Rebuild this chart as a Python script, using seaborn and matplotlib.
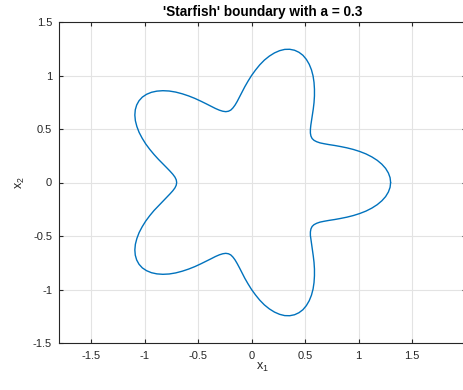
import matplotlib
matplotlib.use("Agg")
import matplotlib.pyplot as plt
import seaborn as sns
import pandas as pd

# Boundary points: upper half (left to right along the curve)
x_upper = [1.300, 1.295, 1.279, 1.253, 1.218, 1.175, 1.125, 1.070, 1.011, 0.951,
           0.891, 0.832, 0.777, 0.725, 0.680, 0.641, 0.609, 0.584, 0.566, 0.555,
           0.550, 0.550, 0.554, 0.561, 0.569, 0.577, 0.584, 0.588, 0.588, 0.584,
           0.575, 0.560, 0.539, 0.512, 0.480, 0.443, 0.402, 0.357, 0.310, 0.262,
           0.214, 0.166, 0.120, 0.077, 0.037, 0.000, -0.033, -0.063, -0.089, -0.112,
           -0.134, -0.154, -0.174, -0.194, -0.216, -0.241, -0.269, -0.301, -0.338, -0.379,
           -0.425, -0.476, -0.530, -0.588, -0.648, -0.709, -0.770, -0.829, -0.885, -0.936,
           -0.982, -1.021, -1.052, -1.074, -1.087, -1.091, -1.086, -1.072, -1.051, -1.022,
           -0.989, -0.951, -0.911, -0.871, -0.831, -0.795, -0.763, -0.736, -0.716, -0.704,
           -0.700]
y_upper = [0.000, 0.045, 0.089, 0.132, 0.171, 0.207, 0.239, 0.267, 0.290, 0.309,
           0.324, 0.336, 0.346, 0.354, 0.362, 0.370, 0.381, 0.394, 0.411, 0.434,
           0.462, 0.495, 0.535, 0.581, 0.632, 0.687, 0.747, 0.809, 0.872, 0.935,
           0.996, 1.053, 1.105, 1.151, 1.189, 1.217, 1.236, 1.245, 1.244, 1.232,
           1.211, 1.181, 1.144, 1.100, 1.051, 1.000, 0.947, 0.895, 0.845, 0.799,
           0.758, 0.724, 0.697, 0.677, 0.666, 0.662, 0.666, 0.676, 0.692, 0.713,
           0.736, 0.761, 0.786, 0.809, 0.829, 0.845, 0.855, 0.858, 0.854, 0.843,
           0.824, 0.798, 0.764, 0.724, 0.679, 0.630, 0.577, 0.523, 0.468, 0.413,
           0.360, 0.309, 0.261, 0.217, 0.177, 0.140, 0.107, 0.077, 0.050, 0.025,
           0.000]
# Lower half, continuing around the curve back to the start
x_lower = [-0.704, -0.716, -0.736, -0.763, -0.795, -0.831, -0.871, -0.911, -0.951, -0.989,
           -1.022, -1.051, -1.072, -1.086, -1.091, -1.087, -1.074, -1.052, -1.021, -0.982,
           -0.936, -0.885, -0.829, -0.770, -0.709, -0.648, -0.588, -0.530, -0.476, -0.425,
           -0.379, -0.338, -0.301, -0.269, -0.241, -0.216, -0.194, -0.174, -0.154, -0.134,
           -0.112, -0.089, -0.063, -0.033, 0.000, 0.037, 0.077, 0.120, 0.166, 0.214,
           0.262, 0.310, 0.357, 0.402, 0.443, 0.480, 0.512, 0.539, 0.560, 0.575,
           0.584, 0.588, 0.588, 0.584, 0.577, 0.569, 0.561, 0.554, 0.550, 0.550,
           0.555, 0.566, 0.584, 0.609, 0.641, 0.680, 0.725, 0.777, 0.832, 0.891,
           0.951, 1.011, 1.070, 1.125, 1.175, 1.218, 1.253, 1.279, 1.295, 1.300]
y_lower = [-0.025, -0.050, -0.077, -0.107, -0.140, -0.177, -0.217, -0.261, -0.309, -0.360,
           -0.413, -0.468, -0.523, -0.577, -0.630, -0.679, -0.724, -0.764, -0.798, -0.824,
           -0.843, -0.854, -0.858, -0.855, -0.845, -0.829, -0.809, -0.786, -0.761, -0.736,
           -0.713, -0.692, -0.676, -0.666, -0.662, -0.666, -0.677, -0.697, -0.724, -0.758,
           -0.799, -0.845, -0.895, -0.947, -1.000, -1.051, -1.100, -1.144, -1.181, -1.211,
           -1.232, -1.244, -1.245, -1.236, -1.217, -1.189, -1.151, -1.105, -1.053, -0.996,
           -0.935, -0.872, -0.809, -0.747, -0.687, -0.632, -0.581, -0.535, -0.495, -0.462,
           -0.434, -0.411, -0.394, -0.381, -0.370, -0.362, -0.354, -0.346, -0.336, -0.324,
           -0.309, -0.290, -0.267, -0.239, -0.207, -0.171, -0.132, -0.089, -0.045, 0.000]

x_ticks = [-1.5, -1, -0.5, 0, 0.5, 1, 1.5, 2]
x_tick_labels = ["-1.5", "-1", "-0.5", "0", "0.5", "1", "1.5", "2"]
y_ticks = [-1.5, -1, -0.5, 0, 0.5, 1, 1.5]
y_tick_labels = ["-1.5", "-1", "-0.5", "0", "0.5", "1", "1.5"]
title = "'Starfish' boundary with a = 0.3"

sns.set_style("ticks")
plt.rcParams["font.family"] = ["Liberation Sans", "DejaVu Sans"]
plt.rcParams["mathtext.fontset"] = "custom"
plt.rcParams["mathtext.rm"] = "Liberation Sans"
plt.rcParams["mathtext.default"] = "regular"
plt.rcParams["axes.unicode_minus"] = False

df = pd.DataFrame({"x": x_upper + x_lower, "y": y_upper + y_lower})

fig = plt.figure(figsize=(4.64, 3.90), dpi=100)
ax = fig.add_axes([59 / 464, 47 / 390, 406.5 / 464, 321 / 390])

sns.lineplot(data=df, x="x", y="y", sort=False, estimator=None,
             color="#0072BD", linewidth=1.0, ax=ax)

ax.set_xlim(-1.8, 2.0)
ax.set_ylim(-1.5, 1.5)
ax.set_xticks(x_ticks)
ax.set_xticklabels(x_tick_labels)
ax.set_yticks(y_ticks)
ax.set_yticklabels(y_tick_labels)
ax.grid(True, color="#e3e3e3", linewidth=0.8)
ax.set_axisbelow(True)
for s in ax.spines.values():
    s.set_visible(True)
    s.set_color("#262626")
    s.set_linewidth(0.8)
ax.tick_params(direction="in", length=3, width=0.8, colors="#262626",
               labelsize=8, top=True, right=True, pad=6)
ax.tick_params(axis="y", pad=5)
ax.set_xlabel("x$_1$", fontsize=9, color="#262626", labelpad=0)
ax.set_ylabel("x$_2$", fontsize=9, color="#262626", labelpad=4)
ax.set_title(title, fontsize=9.8, fontweight="bold", color="black", pad=4)

fig.savefig("out.png", dpi=100)
